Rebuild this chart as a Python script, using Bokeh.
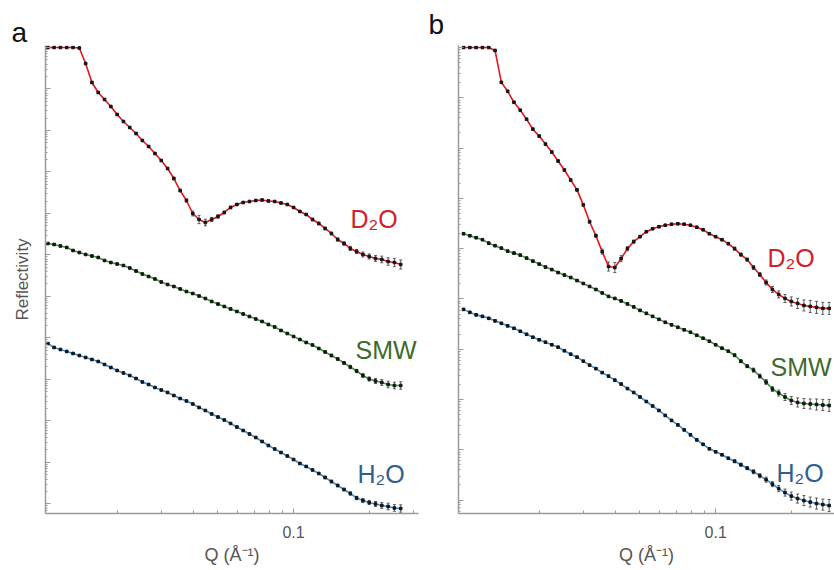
import numpy as np
from bokeh.plotting import figure
from bokeh.layouts import row
from bokeh.models import (ColumnDataSource, FixedTicker, Label, Whisker, TeeHead,
                          Range1d, PrintfTickFormatter, CustomJSTickFormatter)
from bokeh.embed import file_html
from bokeh.resources import INLINE

# ---------------- data ----------------
# Q values (1/Angstrom)
q_a = [0.010593, 0.011220, 0.011885, 0.012589, 0.013335, 0.014125, 0.014962, 0.015849, 0.016788, 0.017783,
       0.018836, 0.019953, 0.021135, 0.022387, 0.023714, 0.025119, 0.026607, 0.028184, 0.029854, 0.031623,
       0.033497, 0.035481, 0.037584, 0.039811, 0.042170, 0.044668, 0.047315, 0.050119, 0.053088, 0.056234,
       0.059566, 0.063096, 0.066834, 0.070795, 0.074989, 0.079433, 0.084140, 0.089125, 0.094406, 0.10000,
       0.10593, 0.11220, 0.11885, 0.12589, 0.13335, 0.14125, 0.14962, 0.15849, 0.16788, 0.17783,
       0.18836, 0.19953, 0.21135, 0.22387, 0.23714, 0.25119, 0.26607]
q_b = [0.010000, 0.010593, 0.011220, 0.011885, 0.012589, 0.013335, 0.014125, 0.014962, 0.015849, 0.016788,
       0.017783, 0.018836, 0.019953, 0.021135, 0.022387, 0.023714, 0.025119, 0.026607, 0.028184, 0.029854,
       0.031623, 0.033497, 0.035481, 0.037584, 0.039811, 0.042170, 0.044668, 0.047315, 0.050119, 0.053088,
       0.056234, 0.059566, 0.063096, 0.066834, 0.070795, 0.074989, 0.079433, 0.084140, 0.089125, 0.094406,
       0.10000, 0.10593, 0.11220, 0.11885, 0.12589, 0.13335, 0.14125, 0.14962, 0.15849, 0.16788,
       0.17783, 0.18836, 0.19953, 0.21135, 0.22387, 0.23714, 0.25119, 0.26607, 0.28184]

# log10 of (offset) reflectivity, panel a
d2o_a_log = [0, 0, 0, 0, 0, -0.012, -0.386, -0.843, -1.084, -1.253,
             -1.422, -1.614, -1.783, -1.928, -2.072, -2.241, -2.386, -2.554, -2.723, -2.916,
             -3.157, -3.446, -3.687, -4.0, -4.145, -4.217, -4.145, -4.072, -3.976, -3.855,
             -3.783, -3.735, -3.711, -3.687, -3.675, -3.699, -3.711, -3.747, -3.783, -3.855,
             -3.952, -4.024, -4.145, -4.241, -4.361, -4.482, -4.627, -4.723, -4.843, -4.916,
             -4.988, -5.036, -5.084, -5.108, -5.157, -5.181, -5.229]
smw_a_log = [-4.723, -4.747, -4.783, -4.819, -4.892, -4.940, -4.988, -5.024, -5.060, -5.133,
             -5.181, -5.217, -5.253, -5.313, -5.386, -5.458, -5.518, -5.578, -5.651, -5.711,
             -5.759, -5.819, -5.880, -5.928, -5.988, -6.048, -6.120, -6.181, -6.241, -6.301,
             -6.361, -6.422, -6.482, -6.542, -6.602, -6.675, -6.735, -6.819, -6.892, -6.964,
             -7.036, -7.108, -7.169, -7.253, -7.337, -7.422, -7.506, -7.602, -7.699, -7.795,
             -7.904, -7.988, -8.036, -8.072, -8.120, -8.145, -8.145]
h2o_a_log = [-7.133, -7.229, -7.277, -7.325, -7.373, -7.422, -7.470, -7.518, -7.566, -7.639,
             -7.711, -7.783, -7.843, -7.904, -7.976, -8.060, -8.120, -8.193, -8.253, -8.313,
             -8.386, -8.458, -8.518, -8.590, -8.675, -8.747, -8.831, -8.904, -8.976, -9.060,
             -9.145, -9.229, -9.313, -9.398, -9.494, -9.590, -9.675, -9.759, -9.843, -9.928,
             -10.024, -10.096, -10.181, -10.265, -10.361, -10.458, -10.554, -10.651, -10.747, -10.855,
             -10.916, -10.964, -11.000, -11.036, -11.060, -11.096, -11.108]

# log10 of (offset) reflectivity, panel b
d2o_b_log = [0, 0, 0, 0, 0, -0.059, -0.693, -0.871, -1.089, -1.248,
             -1.426, -1.624, -1.762, -1.921, -2.079, -2.257, -2.436, -2.634, -2.832, -3.129,
             -3.465, -3.743, -4.059, -4.356, -4.376, -4.198, -4.0, -3.861, -3.762, -3.663,
             -3.604, -3.564, -3.535, -3.515, -3.505, -3.515, -3.535, -3.574, -3.624, -3.703,
             -3.762, -3.822, -3.901, -4.0, -4.119, -4.218, -4.376, -4.515, -4.673, -4.812,
             -4.911, -4.990, -5.050, -5.089, -5.129, -5.149, -5.168, -5.188, -5.188]
smw_b_log = [-3.703, -3.743, -3.782, -3.822, -3.891, -3.941, -3.990, -4.050, -4.089, -4.129,
             -4.188, -4.248, -4.307, -4.366, -4.416, -4.475, -4.525, -4.574, -4.634, -4.693,
             -4.752, -4.812, -4.881, -4.950, -4.990, -5.040, -5.099, -5.158, -5.228, -5.287,
             -5.347, -5.406, -5.465, -5.515, -5.564, -5.614, -5.663, -5.723, -5.782, -5.842,
             -5.911, -5.980, -6.040, -6.119, -6.238, -6.337, -6.416, -6.535, -6.653, -6.792,
             -6.871, -6.950, -7.020, -7.059, -7.079, -7.089, -7.099, -7.109, -7.119]
h2o_b_log = [-5.208, -5.267, -5.317, -5.347, -5.386, -5.436, -5.485, -5.535, -5.584, -5.644,
             -5.703, -5.762, -5.812, -5.861, -5.911, -5.960, -6.030, -6.099, -6.158, -6.238,
             -6.317, -6.386, -6.465, -6.535, -6.614, -6.693, -6.782, -6.861, -6.950, -7.040,
             -7.129, -7.218, -7.317, -7.416, -7.505, -7.604, -7.703, -7.802, -7.891, -7.980,
             -8.040, -8.099, -8.168, -8.228, -8.297, -8.366, -8.436, -8.515, -8.594, -8.683,
             -8.772, -8.851, -8.921, -8.970, -9.010, -9.040, -9.069, -9.089, -9.109]

# error bar half-widths (decades)
err_a_d2o = [0.01, 0.01, 0.01, 0.01, 0.01, 0.01, 0.02, 0.02, 0.02, 0.02,
             0.02, 0.02, 0.02, 0.02, 0.02, 0.02, 0.02, 0.02, 0.02, 0.02,
             0.03, 0.03, 0.04, 0.06, 0.10, 0.08, 0.05, 0.04, 0.03, 0.03,
             0.02, 0.02, 0.02, 0.02, 0.02, 0.02, 0.02, 0.02, 0.02, 0.02,
             0.02, 0.02, 0.03, 0.03, 0.03, 0.03, 0.04, 0.04, 0.05, 0.05,
             0.06, 0.06, 0.07, 0.08, 0.09, 0.10, 0.11]
err_a = [0.02, 0.02, 0.02, 0.02, 0.02, 0.02, 0.02, 0.02, 0.02, 0.02,
         0.02, 0.02, 0.02, 0.02, 0.02, 0.02, 0.02, 0.02, 0.02, 0.02,
         0.02, 0.02, 0.02, 0.02, 0.02, 0.02, 0.02, 0.02, 0.02, 0.02,
         0.02, 0.02, 0.02, 0.02, 0.02, 0.02, 0.02, 0.02, 0.02, 0.02,
         0.02, 0.02, 0.02, 0.02, 0.03, 0.03, 0.03, 0.03, 0.04, 0.04,
         0.05, 0.05, 0.06, 0.07, 0.08, 0.08, 0.09]
err_b_d2o = [0.01, 0.01, 0.01, 0.01, 0.01, 0.02, 0.02, 0.02, 0.02, 0.02,
             0.02, 0.02, 0.02, 0.02, 0.02, 0.02, 0.02, 0.02, 0.02, 0.02,
             0.03, 0.03, 0.05, 0.09, 0.10, 0.06, 0.04, 0.03, 0.02, 0.02,
             0.02, 0.02, 0.02, 0.02, 0.02, 0.02, 0.02, 0.02, 0.02, 0.02,
             0.02, 0.02, 0.02, 0.03, 0.03, 0.03, 0.04, 0.04, 0.05, 0.06,
             0.07, 0.08, 0.09, 0.10, 0.11, 0.12, 0.12, 0.12, 0.12]
err_b = [0.02, 0.02, 0.02, 0.02, 0.02, 0.02, 0.02, 0.02, 0.02, 0.02,
         0.02, 0.02, 0.02, 0.02, 0.02, 0.02, 0.02, 0.02, 0.02, 0.02,
         0.02, 0.02, 0.02, 0.02, 0.02, 0.02, 0.02, 0.02, 0.02, 0.02,
         0.02, 0.02, 0.02, 0.02, 0.02, 0.02, 0.02, 0.02, 0.02, 0.02,
         0.02, 0.02, 0.02, 0.03, 0.03, 0.03, 0.04, 0.04, 0.05, 0.05,
         0.06, 0.07, 0.08, 0.09, 0.10, 0.10, 0.11, 0.11, 0.12]

series_names = ["D\u2082O", "SMW", "H\u2082O"]
fit_colors = ["#e3161d", "#3e9b3a", "#3b8fd4"]
text_colors = ["#d0202a", "#3f6a2c", "#2e5f8f"]

FONT = "Liberation Sans"
AXIS_COLOR = "#9a9a9a"
TEXT_GRAY = "#555555"


def make_panel(q, logs, errs, x_rng, y_rng, n_dec, width, b_left, b_right, b_bottom,
               ylabel, letter, letter_offset, letter_standoff, label_xy):
    p = figure(width=width, height=570, x_axis_type="log", y_axis_type="log",
               x_range=Range1d(*x_rng), y_range=Range1d(*y_rng),
               output_backend="svg", toolbar_location=None,
               min_border_left=b_left, min_border_right=b_right,
               min_border_top=45, min_border_bottom=b_bottom)
    p.outline_line_color = None
    p.grid.visible = False
    p.background_fill_color = "white"
    p.border_fill_color = "white"

    # panel letter as title
    p.title.text = letter
    p.title.align = "left"
    p.title.offset = letter_offset
    try:
        p.title.standoff = letter_standoff
    except Exception:
        p.title.standoff = 0
    p.title.vertical_align = "bottom"
    p.title.text_font = FONT
    p.title.text_font_size = "28px"
    p.title.text_font_style = "normal"
    p.title.text_color = "#111111"

    qa = np.array(q)
    for i, (lg, er) in enumerate(zip(logs, errs)):
        lg = np.array(lg)
        er = np.array(er)
        r = 10.0 ** lg
        src = ColumnDataSource(dict(q=qa, r=r, lo=10.0 ** (lg - er), hi=10.0 ** (lg + er)))
        p.line("q", "r", source=src, line_color=fit_colors[i], line_width=1.6)
        w = Whisker(source=src, base="q", lower="lo", upper="hi", dimension="height",
                    line_color="#3a3a3a", line_width=0.8,
                    lower_head=TeeHead(size=3, line_color="#3a3a3a", line_width=0.8),
                    upper_head=TeeHead(size=3, line_color="#3a3a3a", line_width=0.8))
        p.add_layout(w)
        p.scatter("q", "r", source=src, marker="square", size=2.6,
                  fill_color="#151515", line_color="#151515")
        lx, ly = label_xy[i]
        p.add_layout(Label(x=lx, y=ly, x_units="screen", y_units="screen",
                           text=series_names[i], text_color=text_colors[i],
                           text_font=FONT, text_font_size="25px",
                           text_align="left", text_baseline="alphabetic"))

    # axes
    p.xaxis.ticker = FixedTicker(ticks=[0.1],
                                 minor_ticks=[0.02, 0.03, 0.04, 0.05, 0.06, 0.07, 0.08, 0.09, 0.2, 0.3])
    p.xaxis.formatter = PrintfTickFormatter(format="%.1f")
    p.yaxis.ticker = FixedTicker(ticks=[10.0 ** (-n) for n in range(0, n_dec + 1)],
                                 minor_ticks=[k * 10.0 ** (-n) for n in range(1, n_dec + 2) for k in range(2, 10)])
    p.yaxis.formatter = CustomJSTickFormatter(code="return ''")
    for ax in (p.xaxis, p.yaxis):
        ax.axis_line_color = AXIS_COLOR
        ax.axis_line_width = 1.5
        ax.major_tick_line_color = AXIS_COLOR
        ax.minor_tick_line_color = AXIS_COLOR
        ax.major_tick_out = 0
        ax.minor_tick_out = 0
    p.xaxis.major_tick_in = 5
    p.xaxis.minor_tick_in = 3
    p.yaxis.major_tick_in = 5
    p.yaxis.minor_tick_in = 2
    p.xaxis.major_label_text_font = FONT
    p.xaxis.major_label_text_font_size = "16px"
    p.xaxis.major_label_text_color = TEXT_GRAY
    p.xaxis.major_label_standoff = 12
    p.xaxis.axis_label = "Q (\u00c5\u207b\u00b9)"
    p.xaxis.axis_label_text_font = FONT
    p.xaxis.axis_label_text_font_size = "18px"
    p.xaxis.axis_label_text_font_style = "normal"
    p.xaxis.axis_label_text_color = TEXT_GRAY
    p.xaxis.axis_label_standoff = 4
    p.yaxis.major_label_standoff = 0
    if ylabel:
        p.yaxis.axis_label = ylabel
        p.yaxis.axis_label_text_font = FONT
        p.yaxis.axis_label_text_font_size = "17px"
        p.yaxis.axis_label_text_font_style = "normal"
        p.yaxis.axis_label_text_color = TEXT_GRAY
        p.yaxis.axis_label_standoff = 14
    return p


pa = make_panel(q_a, [d2o_a_log, smw_a_log, h2o_a_log], [err_a_d2o, err_a, err_a],
                (0.01037, 0.313), (5.9e-12, 1.117), 11, 420, 45, 2, 57,
                "Reflectivity", "a", -34, -5,
                [(305, 295), (310, 164), (312, 40)])
pb = make_panel(q_b, [d2o_b_log, smw_b_log, h2o_b_log], [err_b_d2o, err_b, err_b],
                (0.00955, 0.296), (5.41e-10, 1.096), 9, 414, 38, 0, 55,
                None, "b", -30, 11,
                [(309, 256), (312, 147), (318, 41)])

layout = row(pa, pb)
open("out.html", "w").write(file_html(layout, INLINE))
